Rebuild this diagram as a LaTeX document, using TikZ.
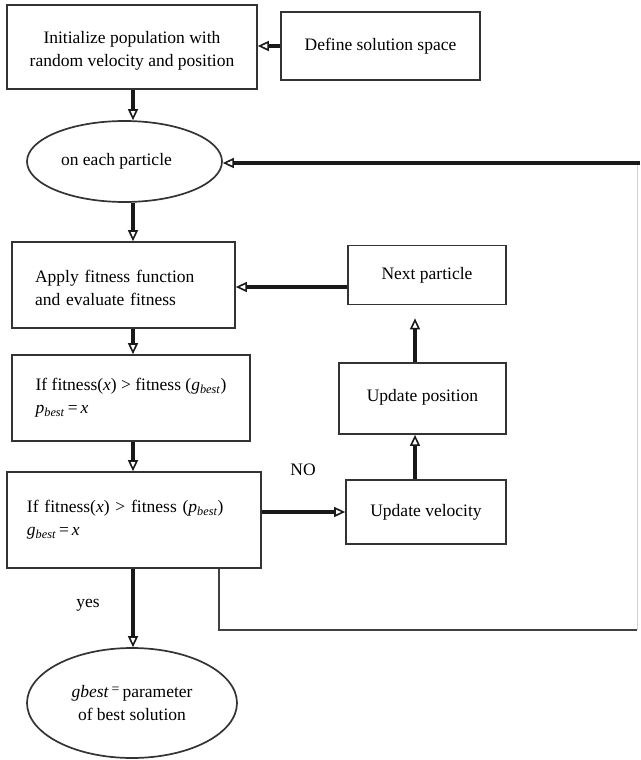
\documentclass[tikz,border=0pt]{standalone}
\usepackage{fontspec}
\setmainfont{Liberation Serif}
\usetikzlibrary{arrows.meta,shapes.geometric,calc}
\begin{document}
\begin{tikzpicture}[x=1pt,y=-1pt,
  every node/.style={font=\fontsize{17.5}{23}\selectfont},
  box/.style={draw=black!80,line width=1.7pt,rectangle,inner sep=0pt},
  oval/.style={draw=black!80,line width=1.7pt,ellipse,inner sep=0pt},
  flow/.style={line width=3.2pt,black!90,
    -{Triangle[open,length=11pt,width=10pt,line width=1.6pt]}},
  plain/.style={line width=2pt,black!75},
  faint/.style={line width=1pt,black!18}]
\useasboundingbox (0,0) rectangle (640,760);

% boxes and ovals
\node[box,minimum width=250pt,minimum height=84pt,align=center] (init) at (132,47)
  {\rule{0pt}{20pt}Initialize population with\\random velocity and position};
\node[box,minimum width=199pt,minimum height=68pt] (define) at (380.5,46)
  {\raisebox{3pt}{Define solution space}};
\node[oval,minimum width=195pt,minimum height=81pt] (ell1) at (124.5,161.5)
  {\hspace*{-16pt}on each particle};
\node[box,minimum width=223pt,minimum height=86pt,text width=177pt,align=left,
  inner xsep=23pt] (apply) at (123.5,285)
  {\rule{0pt}{18pt}Apply fitness function\\and evaluate fitness};
\node[box,minimum width=158pt,minimum height=59pt] (next) at (427,275)
  {Next particle};
\node[box,minimum width=238pt,minimum height=86pt,align=left] (if1) at (131,398)
  {If fitness(\textit{x}) > fitness (\textit{g}\textsubscript{\textit{best}})\\
   \textit{p}\textsubscript{\textit{best}}\,=\,\textit{x}};
\node[box,minimum width=167pt,minimum height=71pt] (updpos) at (422.5,398.5)
  {\raisebox{6pt}{Update position}};
\node[box,minimum width=254pt,minimum height=96pt,text width=214pt,align=left,
  inner xsep=20pt] (if2) at (134,520)
  {If fitness(\textit{x}) > fitness (\textit{p}\textsubscript{\textit{best}})\\
   \textit{g}\textsubscript{\textit{best}}\,=\,\textit{x}};
\node[box,minimum width=160pt,minimum height=64pt] (updvel) at (426,512)
  {Update velocity};
\node[oval,minimum width=210pt,minimum height=110pt,align=center] (ell2) at (132,703)
  {\textit{gbest}\,\raisebox{4pt}{\scalebox{0.8}{=}}\,parameter\\of best solution};

% labels
\node (no) at (303,470) {NO};
\node (yes) at (88,605) {yes};

% columns and rows used by the connectors
\coordinate (col) at (133,0);
\coordinate (rcol) at (415,0);
\coordinate (nrow) at (0,287);
\coordinate (lb) at (219,630);
\coordinate (br) at (637,630);
\coordinate (tr) at (637,163);
\coordinate (te) at (640,163);

% main flow
\draw[flow] (define.west) -- (init.east |- define.west);
\draw[flow] (init.south -| col) -- (ell1.north -| col);
\draw[flow] (ell1.south -| col) -- (apply.north -| col);
\draw[flow] (apply.south -| col) -- (if1.north -| col);
\draw[flow] (if1.south -| col) -- (if2.north -| col);
\draw[flow] (if2.south -| col) -- (ell2.north -| col);

% update loop
\draw[flow] (if2.east |- updvel.west) -- (updvel.west);
\draw[flow] (updvel.north -| rcol) -- (updpos.south -| rcol);
\draw[flow,shorten >=13pt] (updpos.north -| rcol) -- (next.south -| rcol);
\draw[flow] (next.west |- nrow) -- (apply.east |- nrow);

% return path to the particle loop
\draw[plain] (if2.south -| lb) |- (br);
\draw[faint] (br) -- (tr);
\draw[flow] (te) -- (ell1.east |- te);
\end{tikzpicture}
\end{document}
